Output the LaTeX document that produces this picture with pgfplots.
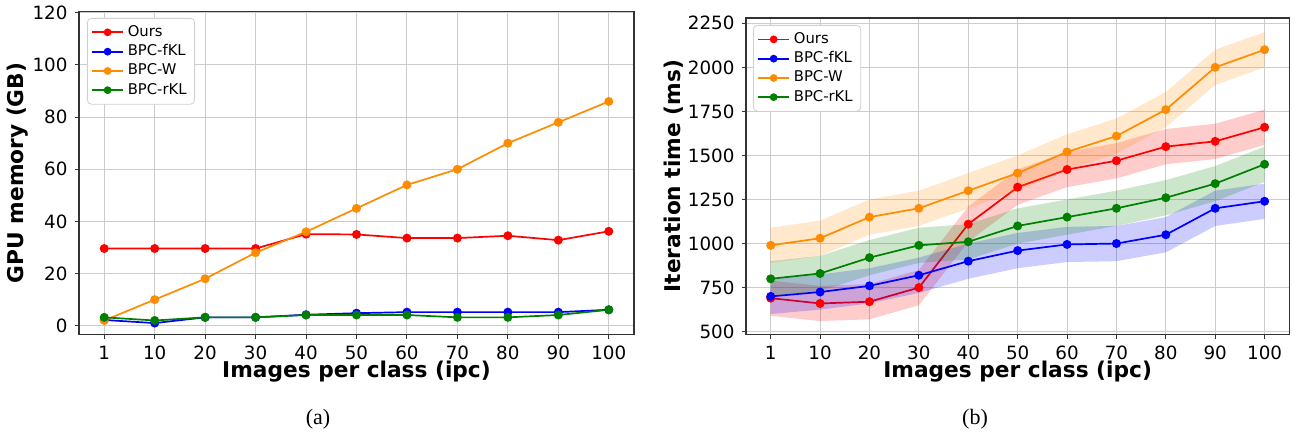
\documentclass[border=0pt]{standalone}
\usepackage{fontspec}
\setmainfont{DejaVu Sans}
\newfontfamily\capfont{Liberation Serif}
\usepackage{pgfplots}
\usepackage{pgfplotstable}
\pgfplotsset{compat=1.18}

\definecolor{cours}{RGB}{255,0,0}
\definecolor{cfkl}{RGB}{0,0,255}
\definecolor{cw}{RGB}{255,140,0}
\definecolor{crkl}{RGB}{0,128,0}

\pgfplotstableread{
x ours fkl w rkl
0 29.6 2.2 2 3.2
1 29.6 1.0 10 2.0
2 29.6 3.2 18 3.2
3 29.6 3.2 28 3.2
4 35.1 4.2 36 4.1
5 35.0 4.8 45 4.1
6 33.6 5.2 54 4.1
7 33.6 5.2 60 3.2
8 34.5 5.2 70 3.2
9 32.8 5.2 78 4.1
10 36.2 6.1 86 6.1
}\memtable

\pgfplotstableread{
x ours fkl w rkl
0 690 700 990 800
1 660 725 1030 830
2 670 760 1150 920
3 750 820 1200 990
4 1110 900 1300 1010
5 1320 960 1400 1100
6 1420 995 1520 1150
7 1470 1000 1610 1200
8 1550 1050 1760 1260
9 1580 1200 2000 1340
10 1660 1240 2100 1450
}\timetable

% shaded bands: upper edge left to right, then lower edge right to left
\pgfplotstableread{
x y
0 790
1 760
2 770
3 850
4 1210
5 1420
6 1520
7 1570
8 1650
9 1680
10 1760
10 1560
9 1480
8 1450
7 1370
6 1320
5 1220
4 1010
3 650
2 570
1 560
0 590
}\oursband

\pgfplotstableread{
x y
0 800
1 825
2 860
3 920
4 1000
5 1060
6 1095
7 1100
8 1150
9 1300
10 1340
10 1140
9 1100
8 950
7 900
6 895
5 860
4 800
3 720
2 660
1 625
0 600
}\fklband

\pgfplotstableread{
x y
0 1090
1 1130
2 1250
3 1300
4 1400
5 1500
6 1620
7 1710
8 1860
9 2100
10 2200
10 2000
9 1900
8 1660
7 1510
6 1420
5 1300
4 1200
3 1100
2 1050
1 930
0 890
}\wband

\pgfplotstableread{
x y
0 900
1 930
2 1020
3 1090
4 1110
5 1200
6 1250
7 1300
8 1360
9 1440
10 1550
10 1350
9 1240
8 1160
7 1100
6 1050
5 1000
4 910
3 890
2 820
1 730
0 700
}\rklband

\pgfplotsset{
  ln/.style={line width=0.85pt, mark=*, mark size=1.8pt, mark options={solid, fill=#1, draw=#1}, color=#1},
  mystyle/.style={
    scale only axis, anchor=south west,
    xmin=-0.5, xmax=10.5, xtick={0,...,10},
    xticklabels={1,10,20,30,40,50,60,70,80,90,100},
    grid=major, grid style={line width=0.5pt, color=black!20},
    axis line style={line width=0.55pt, black!80},
    tick style={line width=0.5pt, black!80},
    tick align=outside, tick pos=left, major tick length=2.2pt,
    ticklabel style={font=\fontsize{9.15}{10}\selectfont},
    /pgf/number format/assume math mode=true,
    /pgf/number format/1000 sep={},
    legend style={anchor=north west, font=\fontsize{7.4}{8}\selectfont,
      draw=black!18, rounded corners=2pt, fill=white,
      row sep=-1.4pt, inner xsep=2pt, inner ysep=1.5pt},
    legend cell align=left,
    legend image code/.code={
      \draw[opacity=1, line width=0.85pt, mark repeat=2,mark phase=2, mark size=1.5pt] plot coordinates {(0cm,0cm) (0.27cm,0cm) (0.54cm,0cm)};},
    band/.style={draw=none, mark=none, fill opacity=0.2, forget plot},
  }
}

\begin{document}
\begin{tikzpicture}
\useasboundingbox (0,0) rectangle (649pt,217pt);

\begin{axis}[mystyle,
  at={(39.5pt,49.85pt)}, width=277.5pt, height=161.4pt,
  ymin=-3.3, ymax=120.5, ytick={0,20,...,120},
  xlabel={Images per class (ipc)}, ylabel={GPU memory (GB)},
  every axis x label/.style={at={(axis description cs:0.5,-0.1168)}, anchor=center, font=\fontsize{10.85}{12}\selectfont\bfseries},
  every axis y label/.style={at={(axis description cs:-0.110,0.5)}, rotate=90, anchor=center, font=\fontsize{10.85}{12}\selectfont\bfseries},
  legend style={at={(axis description cs:0.0144,0.980)}},
]
\addplot[ln=cours] table[x=x,y=ours] {\memtable};
\addlegendentry{Ours}
\addplot[ln=cfkl] table[x=x,y=fkl] {\memtable};
\addlegendentry{BPC-fKL}
\addplot[ln=cw] table[x=x,y=w] {\memtable};
\addlegendentry{BPC-W}
\addplot[ln=crkl] table[x=x,y=rkl] {\memtable};
\addlegendentry{BPC-rKL}
\end{axis}

\begin{axis}[mystyle,
  at={(373pt,49.85pt)}, width=271.65pt, height=158.15pt,
  ymin=485, ymax=2280, ytick={500,750,...,2250},
  xlabel={Images per class (ipc)}, ylabel={Iteration time (ms)},
  every axis x label/.style={at={(axis description cs:0.5,-0.1192)}, anchor=center, font=\fontsize{10.85}{12}\selectfont\bfseries},
  every axis y label/.style={at={(axis description cs:-0.134,0.5)}, rotate=90, anchor=center, font=\fontsize{10.85}{12}\selectfont\bfseries},
  legend style={at={(axis description cs:0.013,0.978)}},
]
\addplot[ln=cours] table[x=x,y=ours] {\timetable};
\addlegendentry{Ours}
\addplot[band, fill=cours] table[x=x,y=y] {\oursband};
\addplot[ln=cfkl] table[x=x,y=fkl] {\timetable};
\addlegendentry{BPC-fKL}
\addplot[band, fill=cfkl] table[x=x,y=y] {\fklband};
\addplot[ln=cw] table[x=x,y=w] {\timetable};
\addlegendentry{BPC-W}
\addplot[band, fill=cw] table[x=x,y=y] {\wband};
\addplot[ln=crkl] table[x=x,y=rkl] {\timetable};
\addlegendentry{BPC-rKL}
\addplot[band, fill=crkl] table[x=x,y=y] {\rklband};
\end{axis}

\node[font=\capfont\fontsize{11}{12}\selectfont, anchor=center] at (159pt,7.5pt) {(a)};
\node[font=\capfont\fontsize{11}{12}\selectfont, anchor=center] at (487.5pt,7.5pt) {(b)};
\end{tikzpicture}
\end{document}
